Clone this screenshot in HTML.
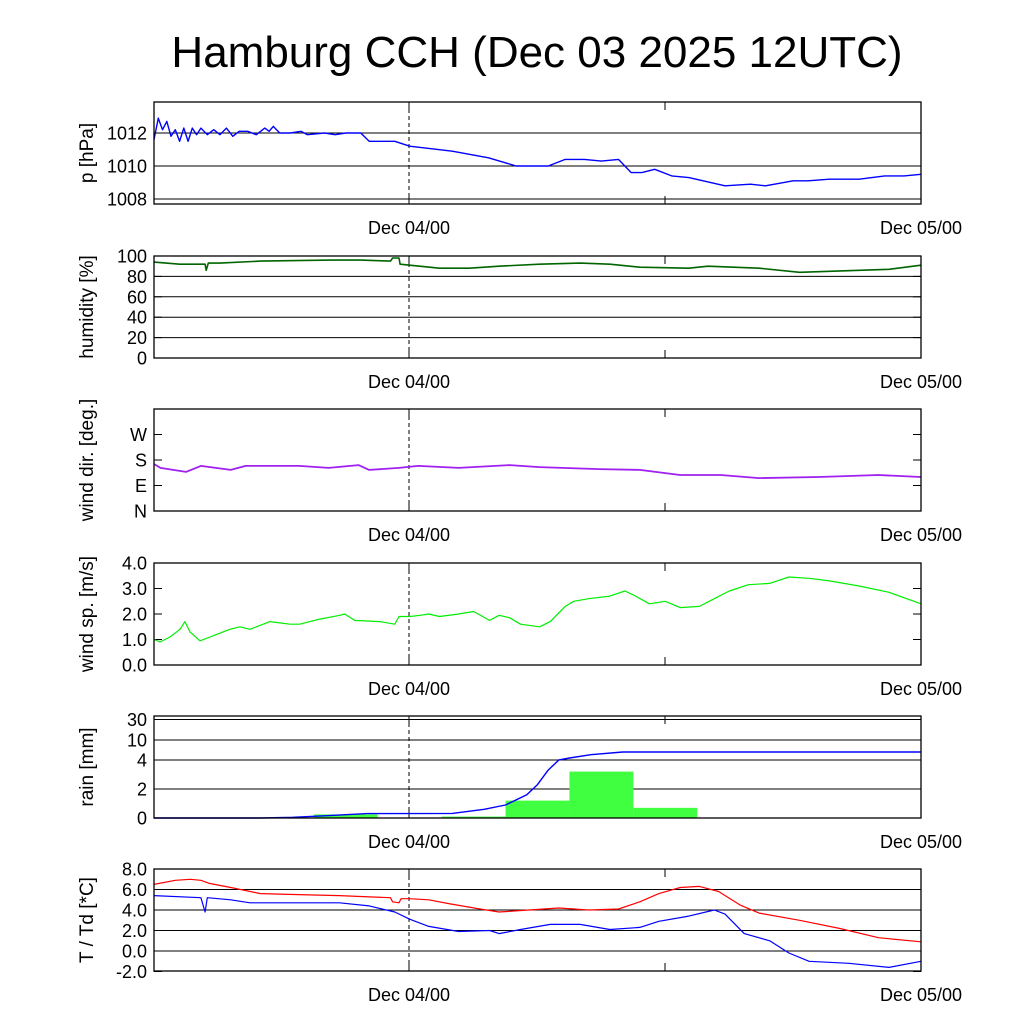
<!DOCTYPE html>
<html><head><meta charset="utf-8"><style>
html,body{margin:0;padding:0;background:#fff;}
svg{display:block;font-family:"Liberation Sans",sans-serif;}
</style></head><body>
<svg id="chart" width="1024" height="1024" viewBox="0 0 1024 1024">
<rect width="1024" height="1024" fill="#fff"/>
<text x="537" y="67" font-size="44" text-anchor="middle">Hamburg CCH (Dec 03 2025 12UTC)</text>
</svg>
<script>
// ---- data (time in hours since Dec 03 12UTC) ----
const pTime=[0,0.2,0.4,0.6,0.8,1.0,1.2,1.4,1.6,1.8,2.0,2.2,2.5,2.8,3.1,3.4,3.7,4.0,4.4,4.8,5.2,5.4,5.6,5.9,6.4,6.9,7.2,8,8.5,9,9.7,10.1,11.3,12,14,15.7,17,18.5,19.3,20.2,21,21.8,22.4,22.9,23.5,24.3,25.1,26.8,28,28.7,30,30.7,31.7,33.1,34.3,35.2,36];
const pVal=[1011.6,1012.9,1012.2,1012.7,1011.8,1012.2,1011.5,1012.3,1011.5,1012.3,1011.9,1012.3,1011.9,1012.2,1011.9,1012.3,1011.8,1012.1,1012.1,1011.9,1012.3,1012.1,1012.4,1012.0,1012.0,1012.1,1011.9,1012.0,1011.9,1012.0,1012.0,1011.5,1011.5,1011.2,1010.9,1010.5,1010.0,1010.0,1010.4,1010.4,1010.3,1010.4,1009.6,1009.6,1009.8,1009.4,1009.3,1008.8,1008.9,1008.8,1009.1,1009.1,1009.2,1009.2,1009.4,1009.4,1009.5];
const rhTime=[0,1.2,2.4,2.45,2.55,3.1,5.0,8.3,9.7,11.1,11.2,11.5,11.55,12,13.4,14.8,16.2,18.1,20.0,21.4,22.8,25.1,26.0,28.4,30.3,33.1,34.5,36];
const rhVal=[94,92,92,86,93,93,95,96,96,95,98,98,92,91,88,88,90,92,93,92,89,88,90,88,84,86,87,91];
const ddTime=[0,0.3,1.5,2.2,3.6,4.3,6.8,8.2,9.6,10.1,11.5,12.4,14.3,16.7,18.1,20.9,22.8,24.7,26.6,28.4,31.2,34.0,36];
const ddVal=[166,152,138,159,145,159,159,152,162,145,152,159,152,162,155,148,145,127,127,116,120,127,120];
const ffTime=[0,0.28,0.75,1.22,1.45,1.69,2.16,2.63,3.56,4.03,4.5,5.44,6.38,6.84,7.78,8.72,8.95,9.42,10.6,11.3,11.5,12,12.5,12.9,13.4,14.3,15.0,15.75,16.2,16.7,17.2,18.1,18.6,19.3,19.7,20.4,21.4,22.1,22.5,23.25,24,24.7,25.6,26.3,27,27.9,28.9,29.8,30.75,31.7,33.1,34.5,36];
const ffVal=[1.0,0.9,1.1,1.4,1.7,1.3,0.95,1.1,1.4,1.5,1.4,1.7,1.6,1.6,1.8,1.95,2.0,1.75,1.7,1.6,1.9,1.9,1.95,2.0,1.9,2.0,2.1,1.75,1.95,1.85,1.6,1.5,1.7,2.3,2.5,2.6,2.7,2.9,2.75,2.4,2.5,2.25,2.3,2.6,2.9,3.15,3.2,3.45,3.4,3.3,3.1,2.85,2.4];
const rainStart=[7.5,13.5,16.5,19.5,22.5];
const rainVal=[0.25,0.1,1.2,3.2,0.7];
const rainSumTime=[0,5,6.5,8,10,14,15.5,16.5,17.5,18,18.5,19,19.5,20.5,22,36];
const rainSumVal=[0,0,0.05,0.15,0.3,0.32,0.6,0.9,1.6,2.3,3.3,4.0,4.6,5.6,6.4,6.4];
const tTime=[0,1.0,1.7,2.2,2.6,3.6,5.0,6.8,8.7,11.1,11.2,11.5,11.6,12,12.9,13.9,15.3,16.2,17.6,19.0,20.4,21.8,22.8,23.7,24.7,25.6,26.5,27.5,28.4,30.3,32.2,34.0,36];
const tVal=[6.5,6.9,7.0,6.9,6.6,6.2,5.6,5.5,5.4,5.2,4.8,4.7,5.1,5.1,5.0,4.6,4.1,3.8,4.0,4.2,4.0,4.1,4.8,5.6,6.2,6.3,5.8,4.5,3.7,3.0,2.2,1.3,0.9];
const tdTime=[0,2.2,2.4,2.5,3.6,4.5,6.8,8.7,10.1,11.3,12,12.9,14.3,15.75,16.2,17.2,18.6,20.0,21.4,22.8,23.7,25.1,26.3,26.8,27.7,28.9,29.8,30.75,32.6,34.5,36];
const tdVal=[5.4,5.2,3.8,5.2,5.0,4.7,4.7,4.7,4.4,3.8,3.1,2.4,1.9,2.0,1.7,2.1,2.6,2.6,2.1,2.3,2.9,3.4,4.0,3.6,1.7,1.0,-0.2,-1.0,-1.2,-1.6,-1.0];
const pTicks=[1008,1010,1012];
const rhTicks=[0,20,40,60,80,100];
const ddTicks=[0,90,180,270];
const ddLabels=["N","E","S","W"];
const ffTicks=[0,1,2,3,4];
const rainTicks=[0,2,4,10,30];
const tTicks=[-2,0,2,4,6,8];

const NS="http://www.w3.org/2000/svg";
const svg=document.getElementById('chart');
const X0=154,X1=921;
const xs=h=>X0+(X1-X0)*h/36;
function el(tag,attrs,parent){const e=document.createElementNS(NS,tag);for(const k in attrs)e.setAttribute(k,attrs[k]);(parent||svg).appendChild(e);return e;}
function lin(d0,d1,r0,r1){return v=>r0+(v-d0)*(r1-r0)/(d1-d0);}
function rainY(v){const d=[0,2,4,10,30,40],r=[818,789,760,740,719.5,716];for(let i=0;i<d.length-1;i++){if(v<=d[i+1])return r[i]+(v-d[i])*(r[i+1]-r[i])/(d[i+1]-d[i]);}return 716;}

function panel(name,top,ys,ticks,labels,gridTicks,ylabel,fmt){
  const g=el('g',{});
  
  
  const bot=top+102;
  gridTicks.forEach(t=>{const l=el('line',{x1:X0,x2:X1,y1:ys(t),y2:ys(t),stroke:'#000','stroke-width':1},g);
    });
  ticks.forEach((t,i)=>{
    const y=ys(t);
    el('line',{x1:X0,x2:X0+8,y1:y,y2:y,stroke:'#000'},g);
    el('line',{x1:X1-8,x2:X1,y1:y,y2:y,stroke:'#000'},g);
    const tx=el('text',{x:X0-7,y:y+6.5,'font-size':18,'text-anchor':'end'},g);
    tx.textContent=labels?labels[i]:fmt(t);
    
  });
  el('line',{x1:409,x2:409,y1:top,y2:bot,stroke:'#000','stroke-dasharray':'4,3'},g);
  [409,665].forEach(x=>{el('line',{x1:x,x2:x,y1:bot-8,y2:bot,stroke:'#000'},g);el('line',{x1:x,x2:x,y1:top,y2:top+8,stroke:'#000'},g);});
  const yl=el('text',{x:0,y:0,'font-size':19,'text-anchor':'middle',transform:`translate(${X0-61},${top+51}) rotate(-90)`},g);
  yl.textContent=ylabel;
  
  const a=el('text',{x:409,y:bot+30,'font-size':18,'text-anchor':'middle'},g);a.textContent='Dec 04/00';
  
  const b=el('text',{x:921,y:bot+30,'font-size':18,'text-anchor':'middle'},g);b.textContent='Dec 05/00';
  
  return g;
}
function frame(g,top){el('rect',{x:X0,y:top,width:X1-X0,height:102,fill:'none',stroke:'#000','stroke-width':1.3},g);}
function line(g,times,vals,ys,color,w,name){
  const d=times.map((t,i)=>(i?'L':'M')+xs(t).toFixed(1)+','+ys(vals[i]).toFixed(1)).join('');
  const p=el('path',{d:d,fill:'none',stroke:color,'stroke-width':w,'stroke-linejoin':'round'},g);
  
}
let ys=lin(1012,1010,133,166);
let g=panel('pressure',102,ys,pTicks,null,[1008,1010,1012],'p [hPa]',v=>String(v));
line(g,pTime,pVal,ys,'#0000ff',1.4,'pressure-line');frame(g,102);
ys=lin(0,100,358,256);
g=panel('humidity',256,ys,rhTicks,null,[20,40,60,80],'humidity [%]',v=>String(v));
line(g,rhTime,rhVal,ys,'#006400',1.6,'humidity-line');frame(g,256);
ys=lin(0,360,511,409);
g=panel('wind-dir',409,ys,ddTicks,ddLabels,[],'wind dir. [deg.]',null);
line(g,ddTime,ddVal,ys,'#a020f0',1.8,'wind-dir-line');frame(g,409);
ys=lin(0,4,665,563);
g=panel('wind-speed',563,ys,ffTicks,null,[],'wind sp. [m/s]',v=>v.toFixed(1));
line(g,ffTime,ffVal,ys,'#00ee00',1.2,'wind-speed-line');frame(g,563);
g=panel('rain',716,rainY,rainTicks,null,[2,4,10,30],'rain [mm]',v=>String(v));
rainStart.forEach((s,i)=>{const y=rainY(rainVal[i]);const r=el('rect',{x:xs(s),y:y,width:xs(s+3)-xs(s),height:818-y,fill:'#40ff40'},g);
  });
line(g,rainSumTime,rainSumVal,rainY,'#0000ff',1.4,'rain-sum-line');frame(g,716);
ys=lin(0,8,951,869);
g=panel('temperature',869,ys,tTicks,null,[0,2,4,6],'T / Td [*C]',v=>v.toFixed(1));
line(g,tTime,tVal,ys,'#ff0000',1.2,'temperature-line');
line(g,tdTime,tdVal,ys,'#0000ff',1.2,'dewpoint-line');frame(g,869);
</script>
</body></html>
